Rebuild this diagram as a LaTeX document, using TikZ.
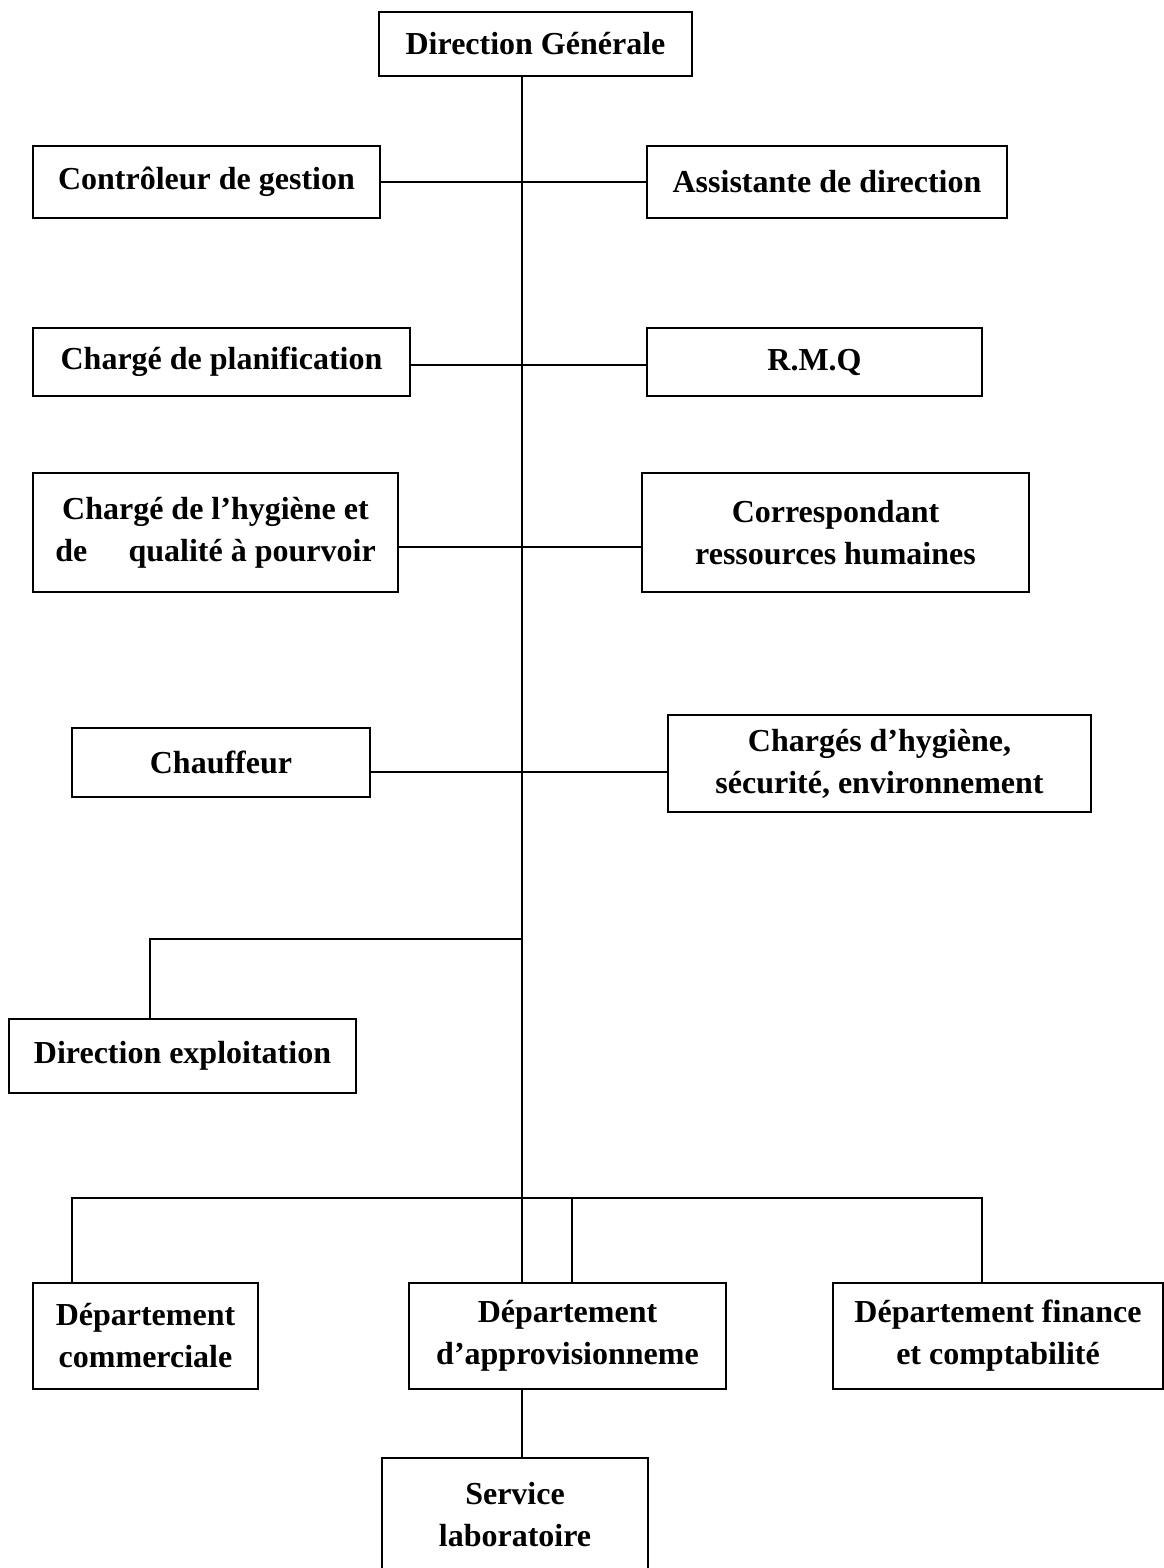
\documentclass[tikz,border=0pt]{standalone}
\usepackage{fontspec}
\setmainfont{Liberation Serif}
\usetikzlibrary{calc}
\begin{document}
\begin{tikzpicture}[x=0.75pt,y=-0.75pt,
  bx/.style={draw=black,line width=1pt,fill=white,inner sep=0pt,align=center,
     font=\fontsize{24pt}{31.5pt}\selectfont\bfseries},
  ln/.style={draw=black,line width=0.9pt}]
\useasboundingbox (0,0) rectangle (1164,1568);
\fill[white] (0,0) rectangle (1164,1568);

% spine and junction coordinates
\coordinate (spine) at (522,0);
\coordinate (jx) at (522,939);
\coordinate (dx) at (150,939);
\coordinate (bl) at (72,1198);
\coordinate (bm) at (572,1198);
\coordinate (br) at (982,1198);

% boxes
\node[bx,minimum width=234.75pt,minimum height=48pt] (dg) at (535.5,44) {Direction Générale};
\node[bx,minimum width=260.25pt,minimum height=54pt] (ctrl) at (206.5,182) {Contrôleur de gestion};
\node[bx,minimum width=270pt,minimum height=54pt] (asst) at (827,182) {Assistante de direction};
\node[bx,minimum width=282.75pt,minimum height=51pt] (plan) at (221.5,362) {Chargé de planification};
\node[bx,minimum width=251.25pt,minimum height=51pt] (rmq) at (814.5,362) {R.M.Q};
\node[bx,minimum width=273.75pt,minimum height=89.25pt] (hyg) at (215.5,532.5) {Chargé de l’hygiène et\\de\hspace{31pt}qualité à pourvoir};
\node[bx,minimum width=290.25pt,minimum height=89.25pt] (corr) at (835.5,532.5) {Correspondant\\ressources humaines};
\node[bx,minimum width=223.5pt,minimum height=51.75pt] (chauf) at (221,762.5) {Chauffeur};
\node[bx,minimum width=317.25pt,minimum height=72.75pt] (chs) at (879.5,763.5) {Chargés d’hygiène,\\sécurité, environnement};
\node[bx,minimum width=260.25pt,minimum height=55.5pt] (dirx) at (182.5,1056) {Direction exploitation};
\node[bx,minimum width=168.75pt,minimum height=79.5pt] (comm) at (145.5,1336) {Département\\commerciale};
\node[bx,minimum width=237.75pt,minimum height=79.5pt] (appr) at (567.5,1336) {Département\\d’approvisionneme};
\node[bx,minimum width=247.5pt,minimum height=79.5pt] (fin) at (998,1336) {Département finance\\et comptabilité};
\node[bx,minimum width=199.5pt,minimum height=85.5pt] (serv) at (515,1515) {Service\\laboratoire};

% connectors
\begin{scope}[on background layer/.style={}]
\draw[ln] (dg.south -| spine) -- (appr.north -| spine);
\draw[ln] (ctrl.east) -- (asst.west);
\draw[ln] ($(plan.east)+(0,3)$) -- ($(rmq.west)+(0,3)$);
\draw[ln] ($(hyg.east)+(0,14.5)$) -- ($(corr.west)+(0,14.5)$);
\draw[ln] ($(chauf.east)+(0,9.5)$) -- ($(chs.west)+(0,8.5)$);
\draw[ln] (jx) -- (dx) -- (dx |- dirx.north);
\draw[ln] (bl |- comm.north) -- (bl) -- (br) -- (br |- fin.north);
\draw[ln] (bm) -- (bm |- appr.north);
\draw[ln] (appr.south -| spine) -- (serv.north -| spine);
\end{scope}
\end{tikzpicture}
\end{document}
